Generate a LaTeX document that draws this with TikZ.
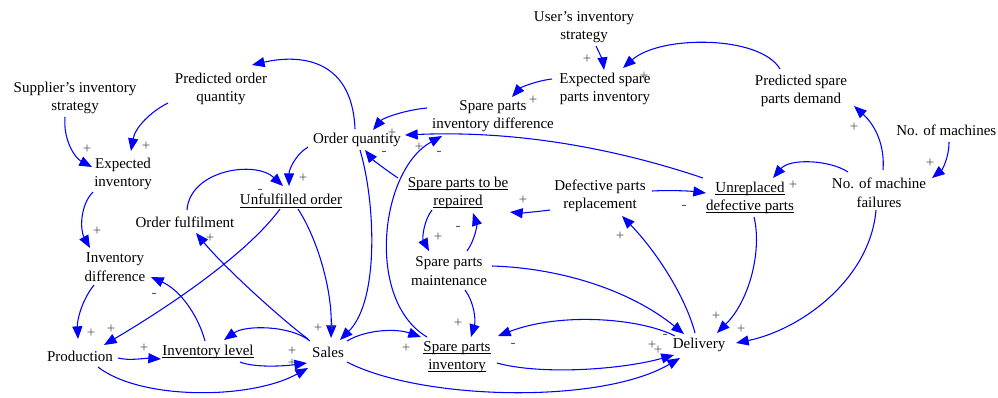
\documentclass[tikz,border=0pt]{standalone}
\usepackage{fontspec}
\setmainfont{Liberation Serif}
\usetikzlibrary{arrows.meta}
\definecolor{arrblue}{RGB}{0,0,255}
\definecolor{sgngray}{RGB}{85,85,85}
\newcommand\ulx[1]{\underline{\smash{#1}}\vphantom{#1}}
\begin{document}
\begin{tikzpicture}[x=0.75pt,y=-0.75pt,
 lbl/.style={align=center,inner sep=0pt,font=\fontsize{11.25}{13.9}\selectfont,text=black},
 sg/.style={inner sep=0pt,font=\fontsize{11.25}{13.9}\selectfont,text=sgngray},
 arr/.style={draw=arrblue,line width=0.8pt,-{Triangle[length=9.5pt,width=7.5pt]}}]
\useasboundingbox (0,0) rectangle (998,397);

% nodes
\node[lbl] (usr) at (584,27) {User's inventory\\strategy};
\node[lbl] (esp) at (605,89) {Expected spare\\parts inventory};
\node[lbl] (psd) at (801,91) {Predicted spare\\parts demand};
\node[lbl] (sis) at (75,98) {Supplier's inventory\\strategy};
\node[lbl] (poq) at (221,89) {Predicted order\\quantity};
\node[lbl] (spid) at (493,116) {Spare parts\\inventory difference};
\node[lbl] (oq) at (357,140) {Order quantity};
\node[lbl,anchor=west] (nom) at (896,130) {No. of machines};
\node[lbl] (ei) at (123,174) {Expected\\inventory};
\node[lbl] (uo) at (291,201) {\ulx{Unfulfilled order}};
\node[lbl] (of) at (185,222) {Order fulfilment};
\node[lbl] (sptr) at (458,193) {\ulx{Spare parts to be}\\\ulx{repaired}};
\node[lbl] (dpr) at (600,196) {Defective parts\\replacement};
\node[lbl] (udp) at (750,198) {\ulx{Unreplaced}\\\ulx{defective parts}};
\node[lbl] (nmf) at (879,193) {No. of machine\\failures};
\node[lbl] (spm) at (449,271) {Spare parts\\maintenance};
\node[lbl] (id) at (115,267) {Inventory\\difference};
\node[lbl] (prod) at (80,356) {Production};
\node[lbl] (il) at (208,352) {\ulx{Inventory level}};
\node[lbl] (sales) at (328,352) {Sales};
\node[lbl] (spi) at (457,357) {\ulx{Spare parts}\\\ulx{inventory}};
\node[lbl] (del) at (699,345) {Delivery};

% connectors
\draw[arr] ([shift={(12,19)}]usr.center) .. controls (600,54) and (603,62) .. ([shift={(-1,-19)}]esp.center);
\draw[arr] ([shift={(-21,-22)}]psd.center) .. controls (760,35) and (660,35) .. ([shift={(18,-21)}]esp.center);
\draw[arr] ([shift={(-53,-10)}]esp.center) .. controls (535,81) and (520,88) .. ([shift={(19,-19)}]spid.center);
\draw[arr] ([shift={(-66,-8)}]spid.center) .. controls (405,110) and (383,118) .. ([shift={(16,-10)}]oq.center);
\draw[arr] ([shift={(-47,-20)}]udp.center) .. controls (620,150) and (520,130) .. ([shift={(48,-5)}]oq.center);
\draw[arr] ([shift={(-60,-15)}]sptr.center) .. controls (386,170) and (373,160) .. ([shift={(8,10)}]oq.center);
\draw[arr] ([shift={(-30,-20)}]spi.center) .. controls (365,300) and (380,170) .. ([shift={(-51,20)}]spid.center);
\draw[arr] ([shift={(3,10)}]oq.center) .. controls (375,200) and (380,300) .. ([shift={(12,-12)}]sales.center);
\draw[arr] ([shift={(7,8)}]uo.center) .. controls (318,240) and (332,290) .. ([shift={(3,-14)}]sales.center);
\draw[arr] ([shift={(-11,8)}]uo.center) .. controls (250,250) and (180,300) .. ([shift={(24,-11)}]prod.center);
\draw[arr] ([shift={(2,-12)}]of.center) .. controls (190,170) and (255,160) .. ([shift={(-8,-15)}]uo.center);
\draw[arr] ([shift={(-49,7)}]oq.center) .. controls (295,155) and (289,170) .. ([shift={(-2,-15)}]uo.center);
\draw[arr] ([shift={(-2,-11)}]oq.center) .. controls (352,55) and (295,55) .. ([shift={(31,-24)}]poq.center);
\draw[arr] ([shift={(-53,14)}]poq.center) .. controls (150,112) and (135,128) .. ([shift={(8,-23)}]ei.center);
\draw[arr] ([shift={(-10,19)}]sis.center) .. controls (63,140) and (75,158) .. ([shift={(-31,-7)}]ei.center);
\draw[arr] ([shift={(-30,18)}]ei.center) .. controls (80,205) and (80,230) .. ([shift={(-25,-19)}]id.center);
\draw[arr] ([shift={(-21,18)}]id.center) .. controls (82,300) and (77,320) .. ([shift={(-2,-17)}]prod.center);
\draw[arr] ([shift={(38,2)}]prod.center) .. controls (130,361) and (145,358) .. ([shift={(-47,7)}]il.center);
\draw[arr] ([shift={(-3,-11)}]il.center) .. controls (198,315) and (180,290) .. ([shift={(36,10)}]id.center);
\draw[arr] ([shift={(-18,-11)}]sales.center) .. controls (290,325) and (245,325) .. ([shift={(16,-12)}]il.center);
\draw[arr] ([shift={(32,10)}]il.center) .. controls (255,368) and (285,366) .. ([shift={(-21,11)}]sales.center);
\draw[arr] ([shift={(18,11)}]prod.center) .. controls (140,400) and (250,400) .. ([shift={(-20,16)}]sales.center);
\draw[arr] ([shift={(-20,-13)}]sales.center) .. controls (280,318) and (225,268) .. ([shift={(11,11)}]of.center);
\draw[arr] ([shift={(19,-11)}]sales.center) .. controls (365,330) and (395,328) .. ([shift={(-36,-20)}]spi.center);
\draw[arr] ([shift={(18,-20)}]spm.center) .. controls (475,240) and (477,225) .. ([shift={(15,20)}]sptr.center);
\draw[arr] ([shift={(-26,17)}]sptr.center) .. controls (424,220) and (422,238) .. ([shift={(-20,-20)}]spm.center);
\draw[arr] ([shift={(16,19)}]spm.center) .. controls (474,302) and (476,320) .. ([shift={(14,-20)}]spi.center);
\draw[arr] ([shift={(-50,14)}]dpr.center) .. controls (535,212) and (520,213) .. ([shift={(52,19)}]sptr.center);
\draw[arr] ([shift={(52,-5)}]dpr.center) .. controls (670,190) and (690,191) .. ([shift={(-44,-5)}]udp.center);
\draw[arr] ([shift={(-31,-21)}]nmf.center) .. controls (830,160) and (790,158) .. ([shift={(23,-20)}]udp.center);
\draw[arr] ([shift={(4,-23)}]nmf.center) .. controls (885,145) and (875,125) .. ([shift={(53,15)}]psd.center);
\draw[arr] ([shift={(53,12)}]nom.west) .. controls (949,158) and (942,170) .. ([shift={(53,-15)}]nmf.center);
\draw[arr] ([shift={(-4,-12)}]del.center) .. controls (685,295) and (655,250) .. ([shift={(22,20)}]dpr.center);
\draw[arr] ([shift={(43,-5)}]spm.center) .. controls (560,268) and (630,290) .. ([shift={(-15,-11)}]del.center);
\draw[arr] ([shift={(4,19)}]udp.center) .. controls (762,250) and (750,300) .. ([shift={(18,-12)}]del.center);
\draw[arr] ([shift={(-3,17)}]nmf.center) .. controls (870,280) and (800,330) .. ([shift={(37,-2)}]del.center);
\draw[arr] ([shift={(-24,-9)}]del.center) .. controls (640,318) and (560,312) .. ([shift={(41,-21)}]spi.center);
\draw[arr] ([shift={(40,6)}]spi.center) .. controls (540,375) and (620,370) .. ([shift={(-25,10)}]del.center);
\draw[arr] ([shift={(19,10)}]sales.center) .. controls (420,400) and (600,405) .. ([shift={(-19,13)}]del.center);

% polarity signs
\foreach \px/\py [count=\i] in {587/59,644/76,533/100,392/133,419/147,146/146,87/149,303/178,210/238,97/231,111/329,91/333,144/348,292/351,292/363,318/328,332/327,406/348,458/323,438/237,523/200,620/236,652/345,658/350,716/316,741/329,793/185,854/127,930/163}
  \node[sg] (p\i) at (\px,\py) {+};
\foreach \px/\py [count=\i] in {260/191,154/295,384/153,439/153,458/228,684/207,513/345,665/336}
  \node[sg] (m\i) at (\px,\py) {-};
\end{tikzpicture}
\end{document}
